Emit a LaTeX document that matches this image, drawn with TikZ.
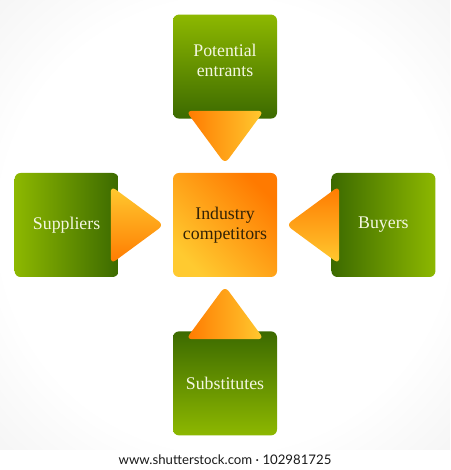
\documentclass[tikz,border=0pt]{standalone}
\usepackage{tikz}
\usetikzlibrary{positioning,calc}
\usepackage{fontspec}
\setmainfont{Liberation Serif}
\newfontfamily\footfont{Lato}
\definecolor{leafLight}{RGB}{141,184,0}
\definecolor{leafDark}{RGB}{60,106,0}
\definecolor{deepOrange}{RGB}{255,122,0}
\definecolor{sunYellow}{RGB}{255,202,48}
\definecolor{paleText}{RGB}{244,247,226}
\definecolor{brownText}{RGB}{50,34,6}
\pgfdeclareradialshading{backglow}{\pgfpoint{0bp}{0bp}}{color(0bp)=(white); color(25bp)=(white); color(50bp)=(black!9); color(71bp)=(black!20)}

\begin{document}
\begin{tikzpicture}[x=1pt,y=1pt,node distance=54pt,
                    box/.style={rectangle,rounded corners=6pt,minimum size=104pt,inner sep=0pt,
                      align=center,font=\fontsize{17.8}{20}\selectfont,text=paleText},
                    wedge/.style={rounded corners=6pt}]
  \useasboundingbox (0,-20) rectangle (450,450);
  \shade[shading=backglow] (0,0) rectangle (450,450);
  \fill[white] (0,-20) rectangle (450,0);

  \node[box,top color=deepOrange,bottom color=sunYellow,shading angle=-45,text=brownText] (core) at (225,225) {Industry\\competitors};
  \node[box,top color=leafLight,bottom color=leafDark] (entrants) [above=of core] {Potential\\entrants\\[-8pt]\mbox{}};
  \node[box,left color=leafLight,right color=leafDark] (suppliers) [left=of core] {Suppliers};
  \node[box,left color=leafDark,right color=leafLight] (buyers) [right=of core] {Buyers};
  \node[box,top color=leafDark,bottom color=leafLight] (substitutes) [below=of core] {Substitutes};

  % arrow heads pointing to the core
  \shade[wedge,left color=deepOrange,right color=sunYellow]
    ($(entrants.south)+(-39,8)$) -- ($(entrants.south)+(39,8)$) -- ($(entrants.south)+(0,-45)$) -- cycle;
  \shade[wedge,top color=sunYellow,bottom color=deepOrange]
    ($(suppliers.east)+(-8,39)$) -- ($(suppliers.east)+(45,0)$) -- ($(suppliers.east)+(-8,-39)$) -- cycle;
  \shade[wedge,top color=deepOrange,bottom color=sunYellow]
    ($(buyers.west)+(8,39)$) -- ($(buyers.west)+(-45,0)$) -- ($(buyers.west)+(8,-39)$) -- cycle;
  \shade[wedge,left color=deepOrange,right color=sunYellow]
    ($(substitutes.north)+(-39,-8)$) -- ($(substitutes.north)+(39,-8)$) -- ($(substitutes.north)+(0,45)$) -- cycle;

  \node[font=\footfont\fontsize{13.2}{15}\selectfont,text=black!90] (credit) at (225,-10) {www.shutterstock.com · 102981725};
\end{tikzpicture}
\end{document}
